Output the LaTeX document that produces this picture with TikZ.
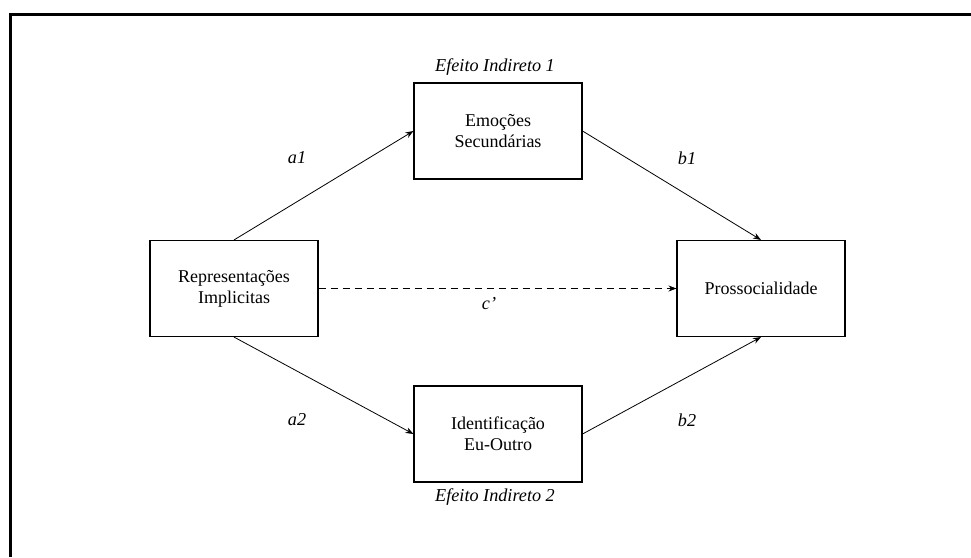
\documentclass[tikz,border=0pt]{standalone}
\usepackage{fontspec}
\setmainfont{Liberation Serif}
\usetikzlibrary{arrows.meta}
\begin{document}
\begin{tikzpicture}[x=1pt,y=-1pt,
  box/.style={draw,line width=1.1pt,minimum width=168pt,minimum height=96pt,align=center,inner sep=0pt,
    font=\fontsize{18}{21}\selectfont},
  lbl/.style={font=\fontsize{18.2}{21}\selectfont\itshape},
  arr/.style={line width=0.8pt,-{Stealth[length=8pt,width=6pt]}}]
\useasboundingbox (0,0) rectangle (971,557);
\draw[line width=3pt] (10.5,557) -- (10.5,14) -- (971,14);
\node[box] (rep) at (234,288.5) {Representações\\Implicitas};
\node[box] (emo) at (498,131) {Emoções\\Secundárias};
\node[box] (ide) at (498,434) {Identificação\\Eu-Outro};
\node[box] (pro) at (761,288.5) {Prossocialidade};
\node[lbl] (e1) at (495,67) {Efeito Indireto 1};
\node[lbl] (e2) at (495,497) {Efeito Indireto 2};
\node[lbl] (a1) at (297,158) {a1};
\node[lbl] (b1) at (687,158) {b1};
\node[lbl] (a2) at (297,420) {a2};
\node[lbl] (b2) at (687,420) {b2};
\node[lbl] (c) at (489,304) {c’};
\draw[arr] (rep.north) -- (emo.west);
\draw[arr] (emo.east) -- (pro.north);
\draw[arr] (rep.south) -- (ide.west);
\draw[arr] (ide.east) -- (pro.south);
\draw[arr,dash pattern=on 7pt off 5pt] (rep.east) -- (pro.west);
\end{tikzpicture}
\end{document}
